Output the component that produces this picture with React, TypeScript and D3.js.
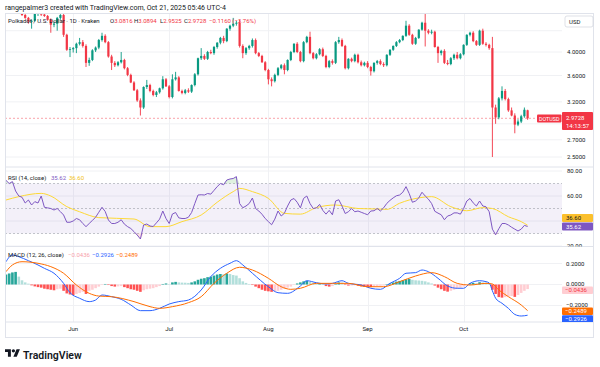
import * as d3 from "d3";
import { useEffect, useRef } from "react";

const startDate = "2025-05-11"; // first daily candle

// daily candles DOT/USD: [open, high, low, close]
const candles: [number, number, number, number][] = [
  [5.08, 5.15, 4.98, 5.05], [5.05, 5.12, 4.95, 5.0], [5.0, 5.06, 4.9, 4.94], [4.94, 5.02, 4.85, 4.98], [4.98, 5.04, 4.82, 4.86],
  [4.86, 4.92, 4.7, 4.72], [4.72, 4.76, 4.64, 4.66], [4.66, 4.68, 4.54, 4.58], [4.58, 4.63, 4.44, 4.6], [4.6, 4.78, 4.58, 4.75],
  [4.75, 4.8, 4.7, 4.76], [4.76, 4.79, 4.7, 4.73], [4.73, 4.76, 4.68, 4.7], [4.7, 4.72, 4.6, 4.62], [4.62, 4.65, 4.36, 4.52],
  [4.52, 4.58, 4.47, 4.54], [4.54, 4.68, 4.4, 4.66], [4.66, 4.74, 4.62, 4.72], [4.72, 4.75, 4.28, 4.32], [4.32, 4.34, 4.02, 4.04],
  [4.04, 4.09, 3.91, 4.05], [4.05, 4.09, 3.99, 4.07], [4.07, 4.17, 3.98, 4.15], [4.15, 4.26, 4.12, 4.18], [4.18, 4.22, 4.08, 4.11],
  [4.11, 4.14, 3.74, 3.81], [3.81, 3.9, 3.76, 3.86], [3.86, 4.05, 3.84, 4.03], [4.03, 4.1, 4.0, 4.08], [4.08, 4.24, 4.05, 4.22],
  [4.22, 4.36, 4.19, 4.3], [4.3, 4.33, 4.16, 4.18], [4.18, 4.2, 3.9, 3.92], [3.92, 3.95, 3.69, 3.81], [3.81, 3.84, 3.74, 3.77],
  [3.77, 3.84, 3.75, 3.82], [3.82, 4.0, 3.8, 3.86], [3.86, 3.88, 3.7, 3.72], [3.72, 3.74, 3.59, 3.61], [3.61, 3.63, 3.48, 3.49],
  [3.49, 3.51, 3.36, 3.37], [3.37, 3.39, 3.2, 3.22], [3.22, 3.25, 3.01, 3.12], [3.12, 3.43, 3.1, 3.42], [3.42, 3.53, 3.39, 3.45],
  [3.45, 3.47, 3.34, 3.36], [3.36, 3.38, 3.28, 3.3], [3.3, 3.36, 3.27, 3.34], [3.34, 3.41, 3.32, 3.4], [3.4, 3.59, 3.38, 3.54],
  [3.54, 3.56, 3.42, 3.43], [3.43, 3.45, 3.25, 3.27], [3.27, 3.62, 3.25, 3.54], [3.54, 3.66, 3.52, 3.57], [3.57, 3.59, 3.35, 3.36],
  [3.36, 3.38, 3.31, 3.33], [3.33, 3.39, 3.31, 3.37], [3.37, 3.4, 3.33, 3.35], [3.35, 3.46, 3.33, 3.45], [3.45, 3.64, 3.43, 3.62],
  [3.62, 3.9, 3.6, 3.89], [3.89, 4.07, 3.86, 3.93], [3.93, 3.96, 3.86, 3.88], [3.88, 4.02, 3.86, 4.0], [4.0, 4.04, 3.96, 3.98],
  [3.98, 4.11, 3.95, 4.09], [4.09, 4.18, 4.06, 4.17], [4.17, 4.28, 4.14, 4.26], [4.26, 4.3, 4.16, 4.2], [4.2, 4.45, 4.18, 4.44],
  [4.44, 4.52, 4.4, 4.5], [4.5, 4.66, 4.47, 4.54], [4.54, 4.6, 4.5, 4.56], [4.56, 4.62, 4.08, 4.11], [4.11, 4.14, 3.89, 3.98],
  [3.98, 4.09, 3.95, 4.07], [4.07, 4.13, 4.04, 4.11], [4.11, 4.25, 4.08, 4.22], [4.22, 4.25, 3.96, 3.98], [3.98, 4.0, 3.91, 3.93],
  [3.93, 3.95, 3.81, 3.82], [3.82, 3.84, 3.67, 3.69], [3.69, 3.71, 3.46, 3.54], [3.54, 3.57, 3.43, 3.51], [3.51, 3.63, 3.49, 3.61],
  [3.61, 3.74, 3.59, 3.72], [3.72, 3.79, 3.7, 3.77], [3.77, 3.8, 3.62, 3.69], [3.69, 3.87, 3.67, 3.86], [3.86, 4.02, 3.84, 4.0],
  [4.0, 4.16, 3.98, 4.15], [4.15, 4.18, 3.98, 4.0], [4.0, 4.02, 3.82, 3.84], [3.84, 4.2, 3.82, 4.18], [4.18, 4.3, 4.16, 4.28],
  [4.28, 4.38, 3.96, 3.98], [3.98, 4.0, 3.87, 3.89], [3.89, 3.98, 3.87, 3.96], [3.96, 4.07, 3.94, 4.05], [4.05, 4.08, 3.91, 3.93],
  [3.93, 3.95, 3.72, 3.74], [3.74, 3.86, 3.72, 3.84], [3.84, 3.87, 3.78, 3.81], [3.81, 4.2, 3.79, 4.18], [4.18, 4.28, 4.15, 4.22],
  [4.22, 4.25, 4.09, 4.11], [4.11, 4.13, 3.7, 3.72], [3.72, 3.89, 3.7, 3.88], [3.88, 3.9, 3.82, 3.84], [3.84, 3.97, 3.82, 3.95],
  [3.95, 3.97, 3.8, 3.82], [3.82, 3.85, 3.75, 3.77], [3.77, 3.83, 3.75, 3.81], [3.81, 3.84, 3.72, 3.74], [3.74, 3.76, 3.6, 3.67],
  [3.67, 3.82, 3.65, 3.81], [3.81, 3.86, 3.78, 3.84], [3.84, 3.87, 3.77, 3.79], [3.79, 3.82, 3.74, 3.77], [3.77, 3.96, 3.75, 3.95],
  [3.95, 4.05, 3.93, 4.04], [4.04, 4.12, 4.02, 4.11], [4.11, 4.2, 4.09, 4.18], [4.18, 4.24, 4.16, 4.22], [4.22, 4.31, 4.2, 4.3],
  [4.3, 4.6, 4.28, 4.5], [4.5, 4.53, 4.3, 4.32], [4.32, 4.34, 4.13, 4.15], [4.15, 4.28, 4.13, 4.26], [4.26, 4.43, 4.24, 4.42],
  [4.42, 4.58, 4.4, 4.56], [4.56, 4.75, 4.1, 4.4], [4.4, 4.43, 4.33, 4.36], [4.36, 4.42, 4.33, 4.38], [4.38, 4.4, 4.08, 4.09],
  [4.09, 4.11, 3.81, 3.98], [3.98, 4.04, 3.94, 4.02], [4.02, 4.05, 3.79, 3.81], [3.81, 3.86, 3.77, 3.79], [3.79, 3.91, 3.77, 3.89],
  [3.89, 3.97, 3.86, 3.95], [3.95, 4.0, 3.87, 3.89], [3.89, 3.98, 3.87, 3.96], [3.96, 4.14, 3.94, 4.13], [4.13, 4.33, 4.11, 4.32],
  [4.32, 4.38, 4.29, 4.36], [4.36, 4.39, 4.18, 4.2], [4.2, 4.22, 4.11, 4.13], [4.13, 4.42, 4.11, 4.4], [4.4, 4.44, 4.13, 4.15],
  [4.15, 4.18, 4.1, 4.13], [4.13, 4.15, 4.04, 4.07], [4.07, 4.28, 2.5, 3.12], [3.12, 3.16, 2.9, 2.985], [2.985, 3.27, 2.96, 3.25],
  [3.25, 3.43, 3.22, 3.36], [3.36, 3.39, 3.22, 3.24], [3.24, 3.26, 3.06, 3.08], [3.08, 3.12, 3.0, 3.01], [3.01, 3.04, 2.78, 2.89],
  [2.89, 2.96, 2.87, 2.93], [2.93, 3.02, 2.91, 3.0], [3.0, 3.12, 2.98, 3.0888], [3.0816, 3.0894, 2.9525, 2.9728],
];

// RSI (14, close), one value per candle
const rsiValues: number[] = [
  72.5, 70, 71.5, 64, 60, 59, 54.4, 56.8, 52.8, 55.5,
  54.4, 60, 51, 50.5, 50, 48.8, 50, 47.5, 44.8, 39,
  39, 40, 42, 41, 38, 35.5, 38, 40.5, 43, 47,
  51, 47.6, 40.8, 38, 38, 39, 41, 37.5, 35.5, 34,
  31.5, 28.8, 25.6, 36.8, 37.6, 36, 35.6, 38.5, 41.5, 48,
  42, 38, 45.6, 46.8, 42.5, 42, 42, 43, 46.8, 54,
  60.8, 61, 60.8, 62, 61.5, 64.5, 67.5, 70, 69, 72.8,
  73.6, 74, 75.5, 54, 50.6, 52, 54, 58.4, 50, 48,
  45.4, 42, 39.5, 37, 41.5, 48, 44, 46.2, 52, 56.8,
  58, 55, 50.5, 58.1, 60, 54, 50, 50.5, 53.3, 48.5,
  45.5, 48.5, 45, 56, 57, 52, 46, 47.4, 50, 47.4,
  48, 47, 46, 45, 48, 48.2, 50, 48, 50.5, 54.1,
  56.5, 58.5, 60.2, 60.8, 63, 67.5, 62, 55, 56, 58.5,
  63, 60, 57.5, 54, 47.8, 46.3, 45, 41, 44, 44.8,
  46.5, 46.5, 45.5, 50, 56, 58, 54.5, 52, 56, 52,
  51.4, 47.4, 33.5, 29, 33.8, 38, 38, 36.8, 35, 33.5,
  32, 33.5, 36.5, 35.62,
];

// smooth lines read at intervals: [days since start, value]
const rsiMaPoints: [number, number][] = [
  [0, 56.8], [4, 59.5], [11, 62.1], [14, 60], [19, 51.5], [23, 47.4], [29, 42.7], [40, 41.6], [45, 35.5],
  [50, 35.5], [55, 39.5], [61, 44.8], [66, 55], [71, 63.5], [73, 66.1], [77, 63.5], [82, 58.1], [87, 46.1],
  [92, 45.5], [97, 50.7], [103, 52.8], [110, 50], [116, 49.6], [119, 49.3], [123, 54.2], [129, 58.5],
  [133, 59.5], [139, 51.5], [144, 48.2], [149, 50.7], [152, 50], [157, 43.4], [161, 39.5], [163, 36.6],
];

const macdPoints: [number, number][] = [
  [0, 0.217], [2, 0.281], [4, 0.265], [7, 0.227], [10, 0.186], [12, 0.154], [15, 0.107], [18, 0.011],
  [20, -0.078], [23, -0.131], [26, -0.163], [28, -0.148], [30, -0.1], [33, -0.116], [36, -0.141],
  [39, -0.195], [42, -0.249], [45, -0.249], [48, -0.227], [51, -0.186], [54, -0.163], [57, -0.148],
  [61, -0.052], [64, 0.075], [67, 0.154], [70, 0.202], [72, 0.227], [74, 0.186], [77, 0.107],
  [82, -0.021], [85, -0.078], [88, -0.084], [92, -0.014], [94, 0.036], [97, 0.017], [100, 0.005],
  [102, 0.011], [105, 0.036], [107, 0.011], [111, -0.005], [114, -0.036], [117, -0.046], [120, 0.011],
  [123, 0.059], [125, 0.107], [128, 0.113], [130, 0.138], [132, 0.122], [135, 0.059], [138, -0.014],
  [141, -0.036], [143, -0.036], [145, 0.011], [148, 0.036], [150, 0.027], [151, 0.015], [152, -0.06],
  [153, -0.13], [155, -0.179], [157, -0.227], [159, -0.285], [161, -0.3], [163, -0.2926],
];

const signalPoints: [number, number][] = [
  [0, 0.122], [2, 0.186], [5, 0.217], [10, 0.202], [14, 0.17], [18, 0.107], [22, -0.005], [26, -0.084],
  [29, -0.11], [33, -0.116], [40, -0.163], [45, -0.211], [48, -0.227], [52, -0.211], [57, -0.173],
  [61, -0.116], [65, 0.011], [69, 0.107], [73, 0.164], [77, 0.138], [82, 0.059], [86, -0.021],
  [89, -0.046], [92, -0.036], [97, 0.011], [102, 0.011], [107, 0.011], [113, -0.021], [118, -0.021],
  [123, 0.027], [128, 0.081], [133, 0.113], [137, 0.075], [141, 0.011], [145, -0.005], [150, 0.011],
  [152, 0.005], [154, -0.052], [157, -0.116], [161, -0.195], [163, -0.249],
];

// MACD histogram, one bar per candle
const histValues: number[] = [
  0.095, 0.105, 0.115, 0.12, 0.075, 0.04, 0.02, 0.008, -0.008, -0.018,
  -0.025, -0.03, -0.04, -0.045, -0.05, -0.055, -0.045, -0.04, -0.06, -0.085,
  -0.095, -0.1, -0.09, -0.08, -0.07, -0.09, -0.06, -0.05, -0.035, -0.02,
  -0.005, 0.005, -0.005, -0.015, -0.02, -0.018, -0.015, -0.025, -0.035, -0.045,
  -0.05, -0.06, -0.07, -0.055, -0.045, -0.04, -0.035, -0.025, -0.015, 0.005,
  0.01, 0.005, 0.02, 0.025, 0.02, 0.018, 0.017, 0.015, 0.02, 0.03,
  0.045, 0.055, 0.06, 0.07, 0.075, 0.085, 0.095, 0.1, 0.098, 0.105,
  0.1, 0.09, 0.085, 0.06, 0.03, 0.015, 0.005, -0.005, -0.02, -0.035,
  -0.05, -0.06, -0.065, -0.07, -0.068, -0.06, -0.05, -0.04, -0.03, -0.02,
  -0.005, 0.01, 0.02, 0.03, 0.035, 0.025, 0.015, 0.01, 0.012, 0.0,
  -0.015, -0.02, -0.015, 0.005, 0.02, 0.018, -0.005, -0.01, -0.009, -0.008,
  -0.012, -0.018, -0.02, -0.022, -0.025, -0.02, -0.015, -0.012, -0.01, 0.0,
  0.01, 0.02, 0.028, 0.034, 0.04, 0.05, 0.052, 0.045, 0.04, 0.038,
  0.035, 0.03, 0.02, 0.01, -0.01, -0.03, -0.045, -0.06, -0.068, -0.06,
  -0.05, -0.04, -0.03, -0.02, -0.005, 0.012, 0.015, 0.012, 0.022, 0.02,
  0.018, 0.01, -0.05, -0.09, -0.12, -0.125, -0.12, -0.115, -0.11, -0.118,
  -0.1, -0.08, -0.06, -0.0436,
];

const monthTicks = ["2025-06-01", "2025-07-01", "2025-08-01", "2025-09-01", "2025-10-01"];
const monthLabels = ["Jun", "Jul", "Aug", "Sep", "Oct"];
const priceTicks = [4.0, 3.6, 3.2, 2.7, 2.5];
const priceGrid = [4.4, 4.0, 3.6, 3.2, 2.9, 2.7, 2.5];
const rsiTicks = [80, 60, 20];
const rsiGrid = [80, 60, 40, 20];
const macdTicks = [0.2, 0, -0.2];

const lastPrice = 2.9728;
const lastRsi = 35.62;
const lastRsiMa = 36.6;
const lastHist = -0.0436;
const lastMacd = -0.2926;
const lastSignal = -0.2489;

const UP = "#089981";
const DOWN = "#f23645";
const TEXT = "#131722";
const GRID = "#f0f1f4";
const BORDER = "#e0e3eb";
const FONT = "Roboto, 'Noto Sans', sans-serif";
const minus = (v: number, d: number) => (v < 0 ? "\u2212" : "") + Math.abs(v).toFixed(d);

export default function App() {
  const ref = useRef<SVGSVGElement | null>(null);

  useEffect(() => {
    if (!ref.current) return;
    const svg = d3.select(ref.current);
    svg.selectAll("*").remove();

    const parse = d3.utcParse("%Y-%m-%d");
    const t0 = parse(startDate)!;
    const day = (i: number) => d3.utcDay.offset(t0, i);

    const L = 5, R = 594, T = 13, B = 338, PR = 562;
    const mainBot = 167, rsiBot = 246.5, macdBot = 322;

    const x = d3.scaleUtc().domain([t0, day(candles.length - 1)]).range([6, 527.6]);
    const yP = d3.scaleLog().domain([2.5, 4]).range([157, 52]);
    const yR = d3.scaleLinear().domain([20, 80]).range([246, 171]);
    const yM = d3.scaleLinear().domain([-0.2, 0.2]).range([305.5, 263.5]);

    svg.append("rect").attr("width", 600).attr("height", 367).attr("fill", "#fff");

    const defs = svg.append("defs");
    const clip = (id: string, y0: number, y1: number, x1 = PR) =>
      defs.append("clipPath").attr("id", id).append("rect")
        .attr("x", L).attr("y", y0).attr("width", x1 - L).attr("height", y1 - y0);
    clip("cMain", T, mainBot);
    clip("cRsi", mainBot, rsiBot);
    clip("cMacd", rsiBot, macdBot);
    clip("cRsiAx", mainBot + 0.5, rsiBot, R);
    clip("cMacdAx", rsiBot + 0.5, macdBot, R);

    // grid
    const grid = svg.append("g").attr("stroke", GRID).attr("stroke-width", 1);
    priceGrid.forEach(p => grid.append("line").attr("x1", L).attr("x2", PR).attr("y1", yP(p)).attr("y2", yP(p)));
    rsiGrid.forEach(v => grid.append("line").attr("x1", L).attr("x2", PR).attr("y1", yR(v)).attr("y2", yR(v)));
    macdTicks.forEach(v => grid.append("line").attr("x1", L).attr("x2", PR).attr("y1", yM(v)).attr("y2", yM(v)));
    monthTicks.forEach(m => {
      const xm = Math.round(x(parse(m)!)) + 0.5;
      grid.append("line").attr("x1", xm).attr("x2", xm).attr("y1", T).attr("y2", macdBot);
    });

    // ---- main pane
    const gMain = svg.append("g").attr("clip-path", "url(#cMain)");
    gMain.append("line")
      .attr("x1", L).attr("x2", 537).attr("y1", yP(lastPrice)).attr("y2", yP(lastPrice))
      .attr("stroke", DOWN).attr("stroke-opacity", 0.45).attr("stroke-dasharray", "2 2");

    candles.forEach(([o, h, l, c], i) => {
      const cx = x(day(i));
      const col = c >= o ? UP : DOWN;
      gMain.append("line").attr("x1", cx).attr("x2", cx).attr("y1", yP(h)).attr("y2", yP(l))
        .attr("stroke", col).attr("stroke-width", 0.9);
      const top = yP(Math.max(o, c)), bot = yP(Math.min(o, c));
      gMain.append("rect").attr("x", cx - 1.1).attr("width", 2.2)
        .attr("y", top).attr("height", Math.max(bot - top, 0.8)).attr("fill", col);
    });

    // ---- RSI pane
    const gRsi = svg.append("g").attr("clip-path", "url(#cRsi)");
    gRsi.append("rect").attr("x", L).attr("width", PR - L)
      .attr("y", yR(70)).attr("height", yR(30) - yR(70)).attr("fill", "#7e57c2").attr("fill-opacity", 0.09);
    [70, 50, 30].forEach(v => gRsi.append("line")
      .attr("x1", L).attr("x2", PR).attr("y1", yR(v)).attr("y2", yR(v))
      .attr("stroke", "#9598a1").attr("stroke-opacity", 0.7).attr("stroke-width", 0.8).attr("stroke-dasharray", "2 2"));

    const xi = (_: number, i: number) => x(day(i));
    gRsi.append("path")
      .attr("d", d3.area<number>().x(xi).y0(yR(70)).y1(v => yR(Math.max(v, 70)))(rsiValues)!)
      .attr("fill", "#4caf50").attr("fill-opacity", 0.18);
    gRsi.append("path")
      .attr("d", d3.area<number>().x(xi).y0(yR(30)).y1(v => yR(Math.min(v, 30)))(rsiValues)!)
      .attr("fill", DOWN).attr("fill-opacity", 0.15);

    const smooth = (yS: (v: number) => number) =>
      d3.line<[number, number]>().x(d => x(day(d[0]))).y(d => yS(d[1])).curve(d3.curveMonotoneX);

    gRsi.append("path").attr("d", smooth(yR)(rsiMaPoints)!)
      .attr("fill", "none").attr("stroke", "#fdd835").attr("stroke-width", 1);
    gRsi.append("path")
      .attr("d", d3.line<number>().x(xi).y(v => yR(v))(rsiValues)!)
      .attr("fill", "none").attr("stroke", "#7e57c2").attr("stroke-width", 1);

    // ---- MACD pane
    const gMacd = svg.append("g").attr("clip-path", "url(#cMacd)");
    histValues.forEach((v, i) => {
      const prev = i > 0 ? histValues[i - 1] : v;
      const col = v >= 0 ? (v >= prev ? "#26a69a" : "#b2dfdb") : (v <= prev ? "#ff5252" : "#ffcdd2");
      const y0 = yM(0), y1 = yM(v);
      gMacd.append("rect").attr("x", x(day(i)) - 1.3).attr("width", 2.6)
        .attr("y", Math.min(y0, y1)).attr("height", Math.max(Math.abs(y1 - y0), 0.5)).attr("fill", col);
    });
    gMacd.append("path").attr("d", smooth(yM)(macdPoints)!)
      .attr("fill", "none").attr("stroke", "#2962ff").attr("stroke-width", 1);
    gMacd.append("path").attr("d", smooth(yM)(signalPoints)!)
      .attr("fill", "none").attr("stroke", "#ff6d00").attr("stroke-width", 1);

    // ---- frame and pane separators
    const frame = svg.append("g").attr("stroke", BORDER).attr("fill", "none");
    frame.append("rect").attr("x", L + 0.5).attr("y", T + 0.5).attr("width", R - L - 1).attr("height", B - T - 1);
    [mainBot, rsiBot, macdBot].forEach(yy =>
      frame.append("line").attr("x1", L).attr("x2", R).attr("y1", yy).attr("y2", yy));

    const txt = (g: d3.Selection<any, unknown, null, undefined>, s: string, tx: number, ty: number,
      size: number, fill = TEXT, anchor = "start", weight = 400) =>
      g.append("text").attr("x", tx).attr("y", ty).attr("font-size", size).attr("font-family", FONT)
        .attr("fill", fill).attr("text-anchor", anchor).attr("font-weight", weight).text(s);

    const labels = svg.append("g");

    // time axis
    monthTicks.forEach((m, k) => txt(labels, monthLabels[k], x(parse(m)!), 331, 6, TEXT, "middle"));

    // price axis
    priceTicks.forEach(p => txt(labels, p.toFixed(4), 567, yP(p) + 2, 6));
    labels.append("rect").attr("x", 565).attr("y", 16).attr("width", 28).attr("height", 11).attr("rx", 2)
      .attr("fill", "#fff").attr("stroke", "#d1d4dc").attr("stroke-width", 0.7);
    txt(labels, "USD", 569, 23.5, 6);
    labels.append("rect").attr("x", 537).attr("y", 114.5).attr("width", 24.5).attr("height", 8).attr("rx", 1).attr("fill", DOWN);
    txt(labels, "DOTUSD", 549.2, 120.6, 5.4, "#fff", "middle");
    labels.append("rect").attr("x", 562).attr("y", 112).attr("width", 31).attr("height", 18).attr("rx", 1).attr("fill", DOWN);
    txt(labels, lastPrice.toFixed(4), 566, 119.5, 6, "#fff");
    txt(labels, "14:13:57", 566, 127.5, 6, "#fff");

    // RSI axis
    const gRa = svg.append("g").attr("clip-path", "url(#cRsiAx)");
    rsiTicks.forEach(v => txt(gRa, v.toFixed(2), 567, yR(v) + 2, 6));
    gRa.append("rect").attr("x", 562).attr("y", 214).attr("width", 31).attr("height", 8).attr("rx", 1).attr("fill", "#fbc02d");
    txt(gRa, lastRsiMa.toFixed(2), 566, 220.2, 6, TEXT);
    gRa.append("rect").attr("x", 562).attr("y", 222.5).attr("width", 31).attr("height", 8).attr("rx", 1).attr("fill", "#7e57c2");
    txt(gRa, lastRsi.toFixed(2), 566, 228.7, 6, "#fff");

    // MACD axis
    const gMa = svg.append("g").attr("clip-path", "url(#cMacdAx)");
    txt(gMa, minus(macdTicks[0], 4), 566, yM(macdTicks[0]) + 2, 6);
    txt(gMa, minus(macdTicks[1], 4), 566, yM(macdTicks[1]) + 1.2, 6);
    txt(gMa, minus(macdTicks[2], 4), 566, yM(macdTicks[2]) + 1.2, 6);
    gMa.append("rect").attr("x", 562).attr("y", 286.5).attr("width", 31).attr("height", 7.5).attr("rx", 1).attr("fill", "#ffcdd2");
    txt(gMa, minus(lastHist, 4), 565, 292.4, 6, DOWN);
    gMa.append("rect").attr("x", 562).attr("y", 307.5).attr("width", 31).attr("height", 7.5).attr("rx", 1).attr("fill", "#ff6d00");
    txt(gMa, minus(lastSignal, 4), 565, 313.4, 6, "#fff");
    gMa.append("rect").attr("x", 562).attr("y", 315.2).attr("width", 31).attr("height", 7.5).attr("rx", 1).attr("fill", "#2962ff");
    txt(gMa, minus(lastMacd, 4), 565, 321.1, 6, "#fff");

    // header + legends
    txt(labels, "rangepalmer3 created with TradingView.com, Oct 21, 2025 05:46 UTC-4", 5, 9.5, 7);
    const [o, h, l, c] = candles[candles.length - 1];
    const prevClose = candles[candles.length - 2][3];
    const chg = c - prevClose;
    txt(labels, "Polkadot / U.S. Dollar \u00b7 1D \u00b7 Kraken", 8, 22.7, 6);
    const ohlcParts: [string, number, number][] = [["O", o, 110], ["H", h, 134], ["L", l, 160], ["C", c, 184]];
    ohlcParts.forEach(([k, v, px]) => {
      const t = labels.append("text").attr("x", px).attr("y", 22.7).attr("font-size", 6).attr("font-family", FONT);
      t.append("tspan").attr("fill", TEXT).text(k);
      t.append("tspan").attr("fill", DOWN).text(v.toFixed(4));
    });
    txt(labels, `${minus(chg, 4)} (${minus((chg / prevClose) * 100, 2)}%)`, 209, 22.7, 6, DOWN);

    txt(labels, "RSI (14, close)", 8, 179.7, 6);
    txt(labels, lastRsi.toFixed(2), 51, 179.7, 6, "#7e57c2");
    txt(labels, lastRsiMa.toFixed(2), 69, 179.7, 6, "#f2c21b");

    txt(labels, "MACD (12, 26, close)", 8, 257.2, 6);
    txt(labels, minus(lastHist, 4), 68, 257.2, 6, "#f7a1ab");
    txt(labels, minus(lastMacd, 4), 92, 257.2, 6, "#2962ff");
    txt(labels, minus(lastSignal, 4), 116, 257.2, 6, "#ff6d00");

    // TradingView logo
    const logo = svg.append("g").attr("transform", "translate(5,347.5) scale(0.42)").attr("fill", TEXT);
    logo.append("path").attr("d", "M14 22H7V11H0V4h14v18zM28 22h-8l7.5-18h8L28 22z");
    logo.append("circle").attr("cx", 20).attr("cy", 8).attr("r", 4);
    txt(labels, "TradingView", 23, 359, 10.5, TEXT, "start", 600);
  }, []);

  return (
    <svg
      ref={ref}
      width={600}
      height={367}
      style={{ position: "absolute", left: 0, top: 0, display: "block" }}
    />
  );
}
